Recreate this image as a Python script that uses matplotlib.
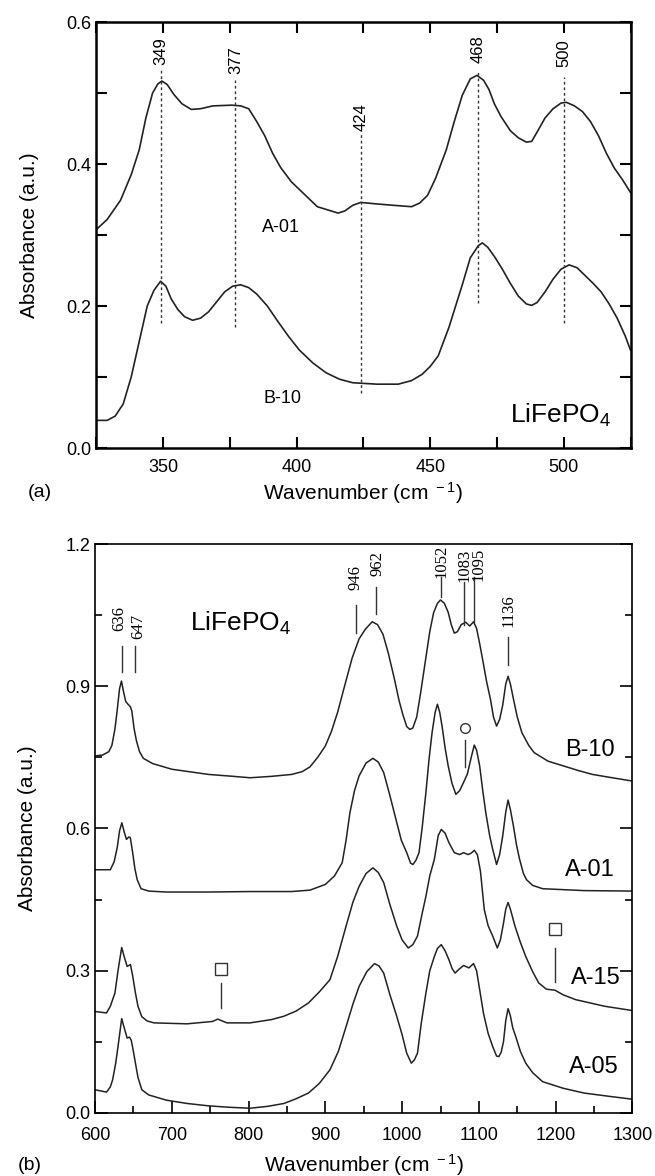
import matplotlib
matplotlib.use("Agg")
import matplotlib.pyplot as plt
from matplotlib.ticker import MultipleLocator, FormatStrFormatter

plt.rcParams['font.family'] = ['Liberation Sans', 'DejaVu Sans']
plt.rcParams['mathtext.default'] = 'regular'

# ---- panel (a): far-IR region ----
a01_x = [325, 329, 334, 338, 341, 343.5, 346, 348, 349.5, 351.5, 354, 357, 360.5, 364, 368.6,
         375.6, 379, 382, 385, 388, 391, 394, 398, 403, 407.7, 412, 415.5, 418, 421, 424,
         429.6, 436, 443, 446, 449, 452, 456, 459, 462, 465, 467.5, 470, 472, 474, 476.5,
         480, 483, 486, 488, 490, 493, 496, 499, 501, 504, 507, 510, 513, 516, 519, 522, 525]
a01_y = [0.308, 0.322, 0.349, 0.385, 0.42, 0.465, 0.5, 0.513, 0.517, 0.512, 0.498, 0.485,
         0.477, 0.478, 0.482, 0.483, 0.482, 0.478, 0.46, 0.44, 0.415, 0.395, 0.375, 0.357,
         0.34, 0.335, 0.331, 0.334, 0.342, 0.346, 0.344, 0.342, 0.34, 0.345, 0.356, 0.38,
         0.42, 0.46, 0.497, 0.52, 0.525, 0.518, 0.505, 0.485, 0.467, 0.447, 0.437, 0.431,
         0.432, 0.445, 0.465, 0.478, 0.486, 0.487, 0.482, 0.474, 0.46, 0.44, 0.415, 0.394,
         0.378, 0.36]

b10a_x = [325, 329, 332, 335, 338, 341, 344, 346.5, 349, 351, 353, 355.5, 358, 361, 364, 367,
          370, 373, 376, 379, 382, 385, 389, 393, 397, 401, 406, 411, 416, 421, 430, 438,
          443, 447, 450, 453, 455, 457, 459.5, 462, 465, 468, 469.5, 471.5, 474, 477, 480,
          483, 486, 488, 490, 493, 496, 499, 502, 505, 508, 511, 514, 517, 520, 523, 525]
b10a_y = [0.039, 0.039, 0.045, 0.062, 0.1, 0.15, 0.2, 0.222, 0.235, 0.228, 0.21, 0.195,
          0.185, 0.180, 0.183, 0.192, 0.206, 0.22, 0.228, 0.230, 0.226, 0.217, 0.2, 0.178,
          0.157, 0.138, 0.12, 0.106, 0.097, 0.092, 0.090, 0.090, 0.095, 0.104, 0.115, 0.13,
          0.15, 0.17, 0.2, 0.23, 0.268, 0.285, 0.289, 0.283, 0.27, 0.252, 0.232, 0.214,
          0.203, 0.201, 0.205, 0.22, 0.238, 0.252, 0.258, 0.254, 0.243, 0.232, 0.22, 0.203,
          0.183, 0.158, 0.138]

peaks_a = [349, 377, 424, 468, 500]
peaks_a_top = [0.535, 0.518, 0.443, 0.530, 0.523]
peaks_a_bot = [0.176, 0.170, 0.077, 0.204, 0.176]
peaks_a_lab = [0.559, 0.546, 0.466, 0.562, 0.557]

# ---- panel (b): mid-IR region ----
b10_x = [600, 610, 618, 622, 626, 629, 632, 634.5, 637, 640, 643, 646, 648, 651, 654, 658,
         663, 675, 700, 748, 780, 802, 830, 856, 870, 880, 890, 900, 908, 916, 925, 935, 944,
         952, 961, 968, 975, 982, 990, 996, 1001, 1006, 1010, 1014, 1019, 1024, 1030, 1036,
         1041, 1046, 1050, 1055, 1060, 1064, 1068, 1072, 1077, 1083, 1088, 1093, 1097, 1101,
         1105, 1110, 1115, 1119, 1123, 1127, 1131, 1135, 1138, 1141, 1145, 1150, 1156, 1165,
         1172, 1190, 1210, 1230, 1248, 1270, 1300]
b10_y = [0.753, 0.755, 0.762, 0.775, 0.81, 0.85, 0.895, 0.911, 0.89, 0.868, 0.862, 0.857,
         0.848, 0.81, 0.785, 0.762, 0.748, 0.737, 0.725, 0.714, 0.71, 0.707, 0.71, 0.714,
         0.72, 0.73, 0.75, 0.774, 0.805, 0.845, 0.9, 0.96, 1.0, 1.02, 1.036, 1.03, 1.01,
         0.97, 0.915, 0.87, 0.84, 0.815, 0.809, 0.812, 0.835, 0.885, 0.95, 1.015, 1.055,
         1.075, 1.082, 1.075, 1.056, 1.03, 1.012, 1.015, 1.03, 1.035, 1.027, 1.036, 1.022,
         0.99, 0.955, 0.91, 0.873, 0.835, 0.816, 0.83, 0.86, 0.905, 0.921, 0.905, 0.873,
         0.835, 0.802, 0.775, 0.76, 0.742, 0.732, 0.722, 0.714, 0.708, 0.700]

a01_bx = [600, 620, 625, 629, 632, 635, 638, 641, 644, 646, 649, 652, 655, 660, 670, 693, 748,
          802, 856, 880, 900, 912, 922, 927, 932, 938, 944, 953, 962, 969, 976, 984, 992, 999,
          1006, 1011, 1014, 1018, 1022, 1026, 1031, 1035, 1039, 1043, 1046, 1049, 1052, 1056,
          1060, 1065, 1070, 1075, 1080, 1085, 1090, 1094, 1097, 1101, 1105, 1109, 1114, 1118,
          1123, 1127, 1131, 1135, 1138, 1141, 1145, 1149, 1153, 1158, 1162, 1170, 1183, 1237,
          1300]
a01_by = [0.513, 0.513, 0.53, 0.56, 0.595, 0.612, 0.593, 0.577, 0.582, 0.581, 0.55, 0.515,
          0.492, 0.473, 0.468, 0.466, 0.466, 0.467, 0.467, 0.47, 0.482, 0.5, 0.528, 0.575,
          0.633, 0.68, 0.711, 0.738, 0.748, 0.74, 0.718, 0.67, 0.619, 0.575, 0.549, 0.527,
          0.524, 0.533, 0.549, 0.6, 0.676, 0.745, 0.802, 0.845, 0.862, 0.845, 0.816, 0.77,
          0.732, 0.695, 0.672, 0.68, 0.697, 0.715, 0.75, 0.776, 0.765, 0.732, 0.68, 0.633,
          0.585, 0.556, 0.524, 0.545, 0.584, 0.635, 0.66, 0.64, 0.605, 0.565, 0.535, 0.505,
          0.492, 0.48, 0.473, 0.469, 0.468]

a15_x = [600, 615, 620, 626, 630, 634.8, 638, 641.9, 646.2, 649, 652.7, 656, 661, 668, 677, 720,
         753, 760, 764.3, 772, 802, 830, 846, 862, 878, 892, 906, 916, 927, 936, 944, 953, 962,
         969, 976, 984, 993, 1000, 1008, 1014, 1020, 1026, 1031, 1036, 1042, 1047, 1051, 1056,
         1061, 1068, 1075, 1080, 1086, 1090, 1094, 1098, 1102, 1107, 1112, 1118, 1124, 1128,
         1132, 1135, 1138, 1141, 1147, 1154, 1161, 1170, 1178, 1188, 1199, 1210, 1226, 1245,
         1264, 1300]
a15_y = [0.214, 0.211, 0.225, 0.253, 0.3, 0.349, 0.33, 0.309, 0.313, 0.29, 0.253, 0.225,
         0.203, 0.194, 0.19, 0.188, 0.193, 0.198, 0.195, 0.19, 0.19, 0.197, 0.204, 0.215,
         0.232, 0.255, 0.281, 0.33, 0.394, 0.445, 0.478, 0.505, 0.517, 0.507, 0.486, 0.44,
         0.394, 0.365, 0.348, 0.355, 0.373, 0.42, 0.457, 0.5, 0.535, 0.585, 0.598, 0.59,
         0.57, 0.549, 0.545, 0.549, 0.545, 0.548, 0.554, 0.545, 0.51, 0.429, 0.395, 0.373,
         0.348, 0.365, 0.4, 0.43, 0.444, 0.43, 0.394, 0.36, 0.33, 0.298, 0.274, 0.261, 0.259,
         0.249, 0.239, 0.232, 0.225, 0.216]

a05_x = [600, 615, 620, 623, 627, 630, 634.8, 638, 641.9, 645, 647.3, 650, 652.7, 656, 661, 670,
         693, 720, 748, 775, 802, 825, 846, 862, 878, 892, 906, 917, 927, 936, 944, 954, 964,
         970, 976, 984, 993, 1000, 1006, 1012, 1016, 1020, 1025, 1031, 1036, 1042, 1046, 1051,
         1056, 1061, 1065, 1069, 1074, 1080, 1087, 1093, 1097, 1101, 1106, 1112, 1118, 1123,
         1126, 1129, 1132, 1135, 1138, 1141, 1144, 1148, 1154, 1161, 1170, 1183, 1210, 1237,
         1270, 1300]
a05_y = [0.049, 0.044, 0.055, 0.07, 0.105, 0.14, 0.199, 0.18, 0.158, 0.16, 0.153, 0.13, 0.105,
         0.075, 0.049, 0.038, 0.027, 0.02, 0.015, 0.012, 0.010, 0.014, 0.02, 0.03, 0.042,
         0.062, 0.091, 0.13, 0.182, 0.23, 0.267, 0.298, 0.315, 0.31, 0.295, 0.25, 0.204,
         0.165, 0.126, 0.105, 0.112, 0.126, 0.19, 0.253, 0.3, 0.33, 0.347, 0.355, 0.342,
         0.323, 0.305, 0.295, 0.303, 0.311, 0.306, 0.315, 0.3, 0.26, 0.21, 0.168, 0.14, 0.12,
         0.119, 0.128, 0.15, 0.195, 0.22, 0.205, 0.18, 0.161, 0.13, 0.105, 0.085, 0.066,
         0.052, 0.042, 0.035, 0.029]

# peak labels (b): text, label x, label y, line x, line top, line bottom
peaks_b = ['636', '647', '946', '962', '1052', '1083', '1095', '1136']
peaks_b_tx = [631.5, 657, 939.6, 967.8, 1050.7, 1081.7, 1099.7, 1137.9]
peaks_b_ty = [1.042, 1.027, 1.129, 1.158, 1.164, 1.156, 1.158, 1.059]
peaks_b_lx = [635.5, 652, 939.8, 965.9, 1050.7, 1080.7, 1093.2, 1137.9]
peaks_b_top = [0.985, 0.985, 1.071, 1.110, 1.131, 1.120, 1.131, 1.004]
peaks_b_bot = [0.930, 0.930, 1.012, 1.052, 1.088, 1.029, 1.036, 0.945]

fig = plt.figure(figsize=(6.55, 11.76), dpi=100)

# ---------- (a) ----------
ax1 = fig.add_axes([0.1473, 0.619, 0.8153, 0.3622])
ax1.plot(a01_x, a01_y, color='#222222', lw=1.2)
ax1.plot(b10a_x, b10a_y, color='#222222', lw=1.2)
for p, t, b, ly in zip(peaks_a, peaks_a_top, peaks_a_bot, peaks_a_lab):
    ax1.plot([p, p], [b, t], ls=(0, (2, 2)), color='#333333', lw=1)
    ax1.text(p, ly, str(p), rotation=90, ha='center', va='center', fontsize=12)
ax1.text(394, 0.31, 'A-01', ha='center', va='center', fontsize=13)
ax1.text(394.7, 0.07, 'B-10', ha='center', va='center', fontsize=13)
ax1.text(518, 0.046, 'LiFePO$_4$', ha='right', va='center', fontsize=19)
ax1.set_xlim(325, 525)
ax1.set_ylim(0, 0.6)
ax1.xaxis.set_major_locator(MultipleLocator(50))
ax1.xaxis.set_minor_locator(MultipleLocator(25))
ax1.yaxis.set_major_locator(MultipleLocator(0.2))
ax1.yaxis.set_minor_locator(MultipleLocator(0.1))
ax1.yaxis.set_major_formatter(FormatStrFormatter('%.1f'))
ax1.tick_params(which='both', direction='in', top=True, right=True, labelsize=13, width=1.5)
ax1.tick_params(which='major', length=8)
ax1.tick_params(which='minor', length=8)
ax1.tick_params(axis='x', pad=8)
for s in ax1.spines.values():
    s.set_linewidth(1.8)
ax1.set_xlabel('Wavenumber (cm$^{\\ -1}$)', fontsize=15, labelpad=3)
ax1.set_ylabel('Absorbance (a.u.)', fontsize=15, labelpad=20)
fig.text(40 / 655, 1 - 493 / 1176, '(a)', ha='center', va='center', fontsize=14)

# ---------- (b) ----------
ax2 = fig.add_axes([0.145, 0.0536, 0.8206, 0.4838])
for xs, ys in [(b10_x, b10_y), (a01_bx, a01_by), (a15_x, a15_y), (a05_x, a05_y)]:
    ax2.plot(xs, ys, color='#222222', lw=1.1)
for lab, tx, ty, lx, t, b in zip(peaks_b, peaks_b_tx, peaks_b_ty, peaks_b_lx, peaks_b_top, peaks_b_bot):
    ax2.plot([lx, lx], [b, t], color='#333333', lw=1)
    ax2.text(tx, ty, lab, rotation=90, ha='center', va='center', fontsize=12,
             family=['Liberation Serif', 'DejaVu Serif'])
# impurity markers
ax2.plot([1082, 1082], [0.730, 0.787], color='#333333', lw=1)
ax2.plot(1082.3, 0.811, marker='o', ms=7, mfc='none', mec='#333333', mew=1)
ax2.plot([764.6, 764.6], [0.221, 0.2735], color='#333333', lw=1)
ax2.plot(764.6, 0.303, marker='s', ms=9, mfc='none', mec='#333333', mew=1)
ax2.plot([1199.5, 1199.5], [0.277, 0.347], color='#333333', lw=1)
ax2.plot(1199.5, 0.387, marker='s', ms=9, mfc='none', mec='#333333', mew=1)

ax2.text(1276.8, 0.766, 'B-10', ha='right', va='center', fontsize=17)
ax2.text(1276.8, 0.512, 'A-01', ha='right', va='center', fontsize=17)
ax2.text(1285, 0.284, 'A-15', ha='right', va='center', fontsize=17)
ax2.text(1282, 0.098, 'A-05', ha='right', va='center', fontsize=17)
ax2.text(723.7, 1.033, 'LiFePO$_4$', ha='left', va='center', fontsize=19)
ax2.set_xlim(600, 1300)
ax2.set_ylim(0, 1.2)
ax2.xaxis.set_major_locator(MultipleLocator(100))
ax2.xaxis.set_minor_locator(MultipleLocator(50))
ax2.yaxis.set_major_locator(MultipleLocator(0.3))
ax2.yaxis.set_minor_locator(MultipleLocator(0.15))
ax2.yaxis.set_major_formatter(FormatStrFormatter('%.1f'))
ax2.tick_params(which='both', direction='in', right=True, top=False, labelsize=13, width=1.2)
ax2.tick_params(which='major', length=9)
ax2.tick_params(which='minor', length=5)
ax2.tick_params(axis='x', pad=10)
for s in ax2.spines.values():
    s.set_linewidth(1.2)
ax2.set_xlabel('Wavenumber (cm$^{\\ -1}$)', fontsize=15, labelpad=6)
ax2.set_ylabel('Absorbance (a.u.)', fontsize=15, labelpad=20)
fig.text(30 / 655, 1 - 1165 / 1176, '(b)', ha='center', va='center', fontsize=14)

fig.savefig('out.png', dpi=100)
